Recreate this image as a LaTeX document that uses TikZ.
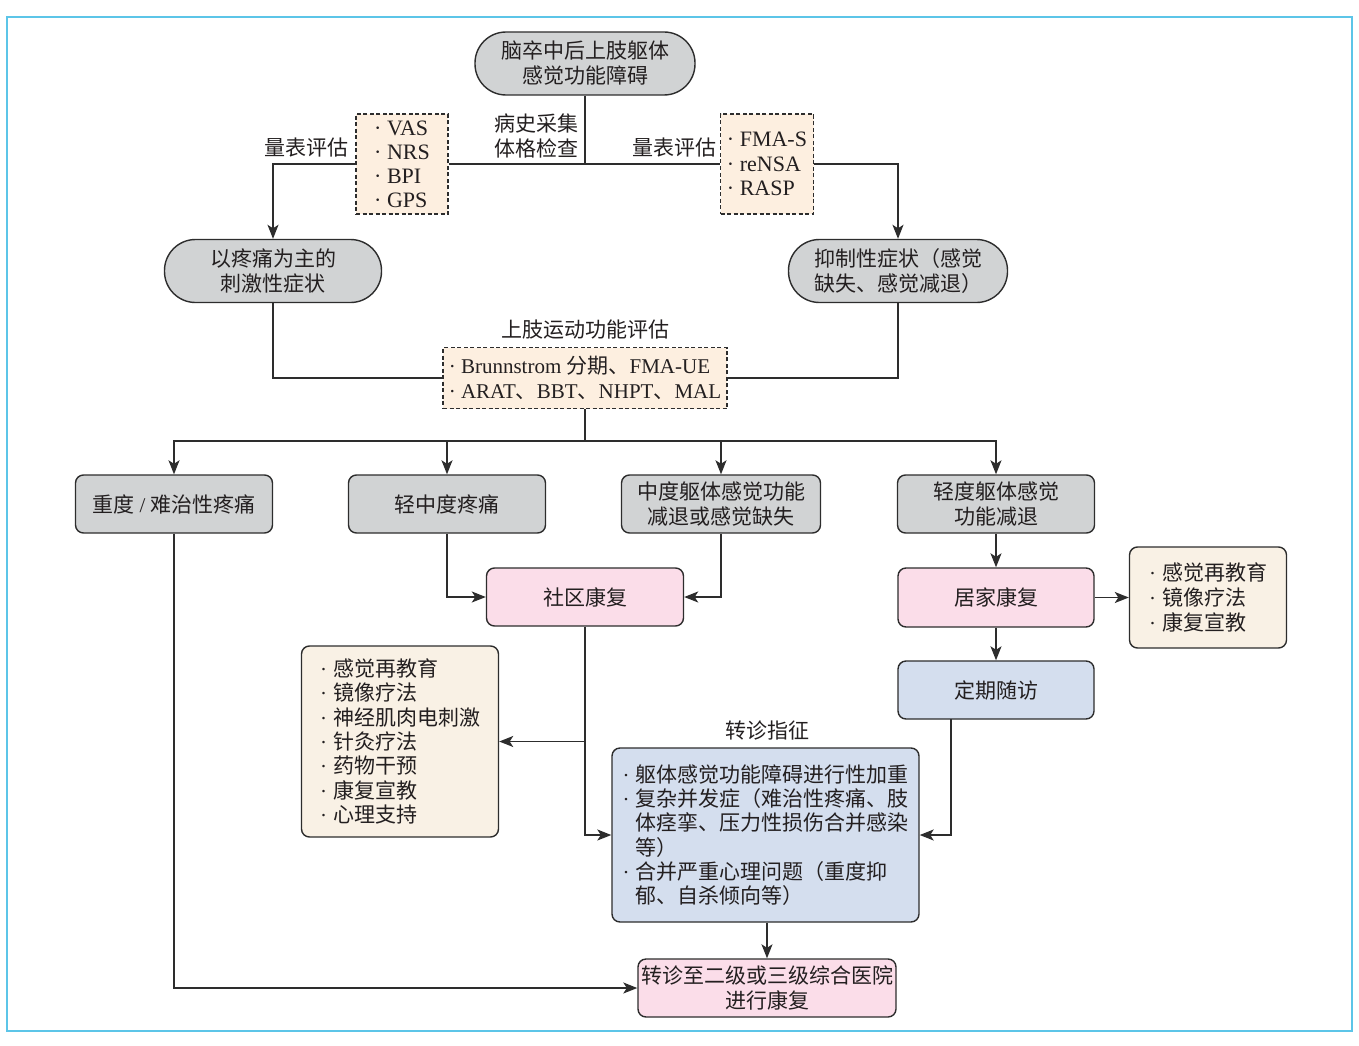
\documentclass[tikz,border=0pt]{standalone}
\usepackage{fontspec}
\setmainfont{Liberation Serif}
\newfontfamily\cjk{Noto Sans CJK SC}
\usetikzlibrary{arrows.meta}
\definecolor{gfill}{RGB}{209,211,212}
\definecolor{pfill}{RGB}{251,221,233}
\definecolor{bfill}{RGB}{212,222,238}
\definecolor{lfill}{RGB}{249,241,229}
\definecolor{dfill}{RGB}{253,239,224}
\definecolor{lc}{RGB}{45,45,45}
\definecolor{tc}{RGB}{35,31,32}
\definecolor{frame}{RGB}{92,197,232}
\newcommand{\bl}{\makebox[13pt][l]{\rmfamily·}}
\newcommand{\ind}{\hspace*{13pt}}
\begin{document}
\begin{tikzpicture}[x=1pt,y=-1pt,
  base/.style={draw=lc, line width=1.4pt, inner sep=0pt, text=tc,
    font=\cjk\fontsize{21}{25}\selectfont, align=center},
  stad/.style={base, fill=gfill, rounded corners=31pt, minimum height=63pt},
  gbox/.style={base, fill=gfill, rounded corners=8pt, minimum width=197pt, minimum height=58pt},
  pbox/.style={base, fill=pfill, rounded corners=8pt, minimum width=197pt, minimum height=58pt},
  bbox/.style={base, fill=bfill, rounded corners=8pt, minimum width=196pt, minimum height=58pt},
  lbox/.style={base, fill=lfill, rounded corners=8pt, align=left},
  dbox/.style={base, fill=dfill, dashed, dash pattern=on 4pt off 2.5pt, line width=1.2pt, align=left},
  lbl/.style={inner sep=0pt, text=tc, font=\cjk\fontsize{21}{25}\selectfont, align=center},
  conn/.style={draw=lc, line width=1.5pt},
  arr/.style={conn, -{Stealth[length=14pt,width=11pt,inset=3.5pt]}}
]
\useasboundingbox (0,0) rectangle (1359,1046);
\draw[frame, line width=1.5pt] (7,17) rectangle (1352,1031);

% nodes
\node[stad, minimum width=220pt] (top) at (585,63.5) {脑卒中后上肢躯体\\感觉功能障碍};
\node[dbox, minimum width=92pt, minimum height=100pt, font=\rmfamily\fontsize{22}{24}\selectfont] (vas) at (402,164)
  {· VAS\\· NRS\\· BPI\\· GPS};
\node[dbox, minimum width=93pt, minimum height=100pt, font=\rmfamily\fontsize{22}{24.5}\selectfont] (fma) at (767,164)
  {· FMA-S\\· reNSA\\· RASP};
\node[lbl] (l1) at (306,148) {量表评估};
\node[lbl, anchor=east] (l2) at (579,136) {病史采集\\体格检查};
\node[lbl] (l3) at (674,148) {量表评估};

\node[stad, minimum width=217pt] (pain) at (273,271) {以疼痛为主的\\刺激性症状};
\node[stad, minimum width=219pt] (inhib) at (898,271) {抑制性症状（感觉\\缺失、感觉减退）};

\node[lbl] (ml) at (585,330) {上肢运动功能评估};
\node[dbox, minimum width=284pt, minimum height=61pt, font=\rmfamily\fontsize{21}{25}\selectfont] (motor) at (585,378)
  {· Brunnstrom {\cjk 分期、}FMA-UE\\· ARAT{\cjk 、}BBT{\cjk 、}NHPT{\cjk 、}MAL};

\node[gbox] (sev) at (174,504) {重度 {\rmfamily /} 难治性疼痛};
\node[gbox] (mild) at (447,504) {轻中度疼痛};
\node[gbox, minimum width=199pt] (mod) at (721,504) {中度躯体感觉功能\\减退或感觉缺失};
\node[gbox] (light) at (996,504) {轻度躯体感觉\\功能减退};

\node[pbox] (comm) at (585,597) {社区康复};
\node[pbox, minimum width=196pt, minimum height=59pt] (home) at (996,597.5) {居家康复};
\node[lbox, minimum width=157pt, minimum height=101pt] (hlist) at (1208,597.5)
  {\bl 感觉再教育\\\bl 镜像疗法\\\bl 康复宣教};
\node[bbox] (follow) at (996,690) {定期随访};

\node[lbox, minimum width=197pt, minimum height=191pt, font=\cjk\fontsize{21}{24.3}\selectfont] (treat) at (400,741.5)
  {\bl 感觉再教育\\\bl 镜像疗法\\\bl 神经肌肉电刺激\\\bl 针灸疗法\\\bl 药物干预\\\bl 康复宣教\\\bl 心理支持};

\node[lbl] (rl) at (767,731) {转诊指征};
\node[base, fill=bfill, rounded corners=8pt, minimum width=307pt, minimum height=174pt, align=left,
  font=\cjk\fontsize{21}{24.3}\selectfont] (ref) at (765.5,835)
  {\bl 躯体感觉功能障碍进行性加重\\\bl 复杂并发症（难治性疼痛、肢\\\ind 体痉挛、压力性损伤合并感染\\\ind 等）\\\bl 合并严重心理问题（重度抑\\\ind 郁、自杀倾向等）};

\node[pbox, minimum width=258pt] (final) at (767,988) {转诊至二级或三级综合医院\\进行康复};

% connectors
\coordinate (j1) at (585,164);
\draw[conn] (top.south) -- (j1);
\draw[conn] (vas.east) -- (fma.west);
\draw[arr] (vas.west) -| (pain.north);
\draw[arr] (fma.east) -| (inhib.north);
\draw[conn] (pain.south) |- (motor.west);
\draw[conn] (inhib.south) |- (motor.east);
\coordinate (bus) at (585,441);
\draw[conn] (motor.south) -- (bus);
\draw[arr] (bus) -| (sev.north);
\draw[arr] (bus) -| (light.north);
\draw[arr] (mild.north |- bus) -- (mild.north);
\draw[arr] (mod.north |- bus) -- (mod.north);
\draw[arr] (mild.south) |- (comm.west);
\draw[arr] (mod.south) |- (comm.east);
\draw[arr] (light.south) -- (home.north);
\draw[arr] (home.east) -- (hlist.west);
\draw[arr] (home.south) -- (follow.north);
\draw[arr] (comm.south) |- (ref.west);
\draw[arr] (comm.south |- treat.east) -- (treat.east);
\coordinate (fs) at (951,719);
\draw[arr] (fs) |- (ref.east);
\draw[arr] (final.north |- ref.south) -- (final.north);
\draw[arr] (sev.south) |- (final.west);
\end{tikzpicture}
\end{document}
